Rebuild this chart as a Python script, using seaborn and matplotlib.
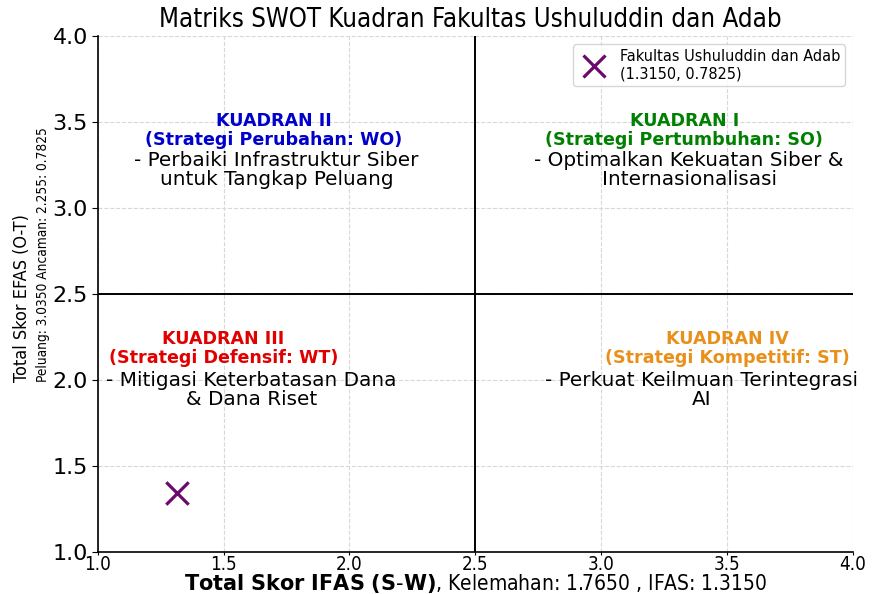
import numpy as np
import pandas as pd
import matplotlib
matplotlib.use("Agg")
import matplotlib.pyplot as plt
import seaborn as sns

# ------------------------------
# Data
# ------------------------------
ifas_x = [1.315]
efas_y = [1.345]
point_label = "Fakultas Ushuluddin dan Adab\n(1.3150, 0.7825)"
mid_line = 2.5
ticks = [1.0, 1.5, 2.0, 2.5, 3.0, 3.5, 4.0]

quad_titles = ["KUADRAN I\n(Strategi Pertumbuhan: SO)",
               "KUADRAN II\n(Strategi Perubahan: WO)",
               "KUADRAN III\n(Strategi Defensif: WT)",
               "KUADRAN IV\n(Strategi Kompetitif: ST)"]
quad_bodies = ["- Optimalkan Kekuatan Siber &\nInternasionalisasi",
               "- Perbaiki Infrastruktur Siber\nuntuk Tangkap Peluang",
               "- Mitigasi Keterbatasan Dana\n& Dana Riset",
               "- Perkuat Keilmuan Terintegrasi\nAI"]
quad_colors = ["green", "#0000CC", "#E00000", "#E8901A"]
# text anchor positions (x of title, x of body, y of title, y of body)
title_x = [3.33, 1.70, 1.50, 3.50]
body_x = [3.35, 1.71, 1.61, 3.40]
title_y = [3.45, 3.45, 2.183, 2.183]
body_y = [3.22, 3.22, 1.942, 1.942]

df = pd.DataFrame({"IFAS": ifas_x, "EFAS": efas_y, "Unit": [point_label]})

# ------------------------------
# Plot
# ------------------------------
sns.set_style("whitegrid")
plt.rcParams["font.family"] = ["DejaVu Sans"]
plt.rcParams["text.color"] = "black"
plt.rcParams["xtick.color"] = "black"
plt.rcParams["ytick.color"] = "black"

fig = plt.figure(figsize=(8.72, 5.94), dpi=100)
ax = fig.add_axes([0.112, 0.071, 0.866, 0.868])

sns.scatterplot(data=df, x="IFAS", y="EFAS", hue="Unit", palette=["#6A0A6E"],
                marker="x", s=260, linewidth=2.3, ax=ax, zorder=5)

ax.axhline(mid_line, color="black", lw=1.4)
ax.axvline(mid_line, color="black", lw=1.4)

for i in range(4):
    ax.text(title_x[i], title_y[i], quad_titles[i], color=quad_colors[i],
            fontsize=12.6, fontweight="bold", ha="center", va="center",
            linespacing=1.08)
    ax.text(body_x[i], body_y[i], quad_bodies[i], color="black",
            fontsize=14.4, ha="center", va="center", linespacing=1.0)

ax.set_xlim(1, 4)
ax.set_ylim(1, 4)
ax.set_xticks(ticks)
ax.set_yticks(ticks)
ax.tick_params(axis="y", labelsize=16, length=4, left=True, pad=3, colors="black")
ax.tick_params(axis="x", labelsize=13.5, length=2, bottom=True, pad=0, colors="black")
for lab in ax.get_xticklabels():
    lab.set_fontstretch("condensed")

ax.grid(True, color="#d8d8d8", linestyle="--", linewidth=0.8)
for side in ["top", "right"]:
    ax.spines[side].set_visible(False)
for side in ["left", "bottom"]:
    ax.spines[side].set_color("black")
    ax.spines[side].set_linewidth(1.2)

ax.set_xlabel("")
ax.set_ylabel("")
fig.text(0.545, 0.017, r"$\bf{Total\ Skor\ IFAS\ (S\text{-}W)}$, Kelemahan: 1.7650 , IFAS: 1.3150",
         ha="center", va="center", fontsize=15, fontstretch="condensed")
fig.text(0.025, 1 - 382 / 594, "Total Skor EFAS (O-T)", rotation=90,
         ha="center", va="bottom", fontsize=13, fontstretch="condensed")
fig.text(0.049, 1 - 382 / 594, "Peluang: 3.0350 Ancaman: 2.255: 0.7825", rotation=90,
         ha="center", va="bottom", fontsize=9.8, fontstretch="condensed")

fig.text(0.539, 0.966, "Matriks SWOT Kuadran Fakultas Ushuluddin dan Adab",
         ha="center", va="center", fontsize=18.5, fontstretch="condensed")

ax.legend(loc="upper right", frameon=True,
          prop={"size": 11.6, "stretch": "condensed"}, borderpad=0.3,
          handletextpad=0.6, labelspacing=0.3, edgecolor="#cccccc")

fig.savefig("out.png", dpi=100)
